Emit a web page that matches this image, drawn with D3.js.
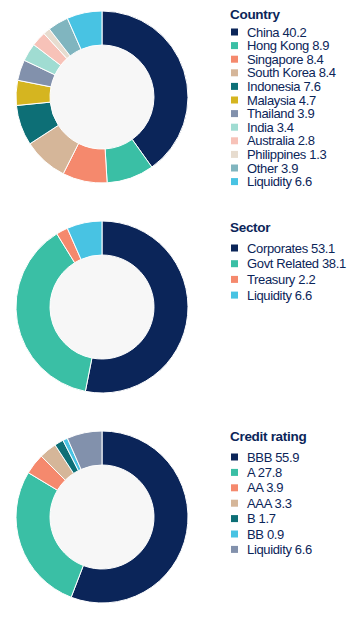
<!DOCTYPE html>
<html lang="en">
<head>
<meta charset="utf-8">
<title>Portfolio breakdown</title>
<style>
  body { margin: 0; background: #fff; font-family: "Liberation Sans", Arial, sans-serif; }
  svg { display: block; }
</style>
</head>
<body>
<svg id="chart"></svg>
<script src="https://d3js.org/d3.v7.min.js"></script>
<script>
  const width = 362;
  const height = 618;

  const countryLabels = ["China", "Hong Kong", "Singapore", "South Korea", "Indonesia", "Malaysia",
    "Thailand", "India", "Australia", "Philippines", "Other", "Liquidity"];
  const countryValues = [40.2, 8.9, 8.4, 8.4, 7.6, 4.7, 3.9, 3.4, 2.8, 1.3, 3.9, 6.6];
  const countryColors = ["#0b2559", "#3abfa5", "#f5896d", "#d5b699", "#0d6f76", "#d5b520",
    "#8291ac", "#a0dcd2", "#f7c2b8", "#e7dccf", "#80b5bf", "#48c3e3"];

  const sectorLabels = ["Corporates", "Govt Related", "Treasury", "Liquidity"];
  const sectorValues = [53.1, 38.1, 2.2, 6.6];
  const sectorColors = ["#0b2559", "#3abfa5", "#f5896d", "#48c3e3"];

  const ratingLabels = ["BBB", "A", "AA", "AAA", "B", "BB", "Liquidity"];
  const ratingValues = [55.9, 27.8, 3.9, 3.3, 1.7, 0.9, 6.6];
  const ratingColors = ["#0b2559", "#3abfa5", "#f5896d", "#d5b699", "#0d6f76", "#48c3e3", "#8291ac"];

  const svg = d3.select("#chart")
    .attr("width", width)
    .attr("height", height);

  const textColor = "#0b2559";

  // one donut + legend per block
  const blocks = [
    { title: "Country", labels: countryLabels, values: countryValues, colors: countryColors,
      cy: 97, titleY: 19, firstRow: 32, rowGap: 13.6 },
    { title: "Sector", labels: sectorLabels, values: sectorValues, colors: sectorColors,
      cy: 307, titleY: 232, firstRow: 248, rowGap: 15.7 },
    { title: "Credit rating", labels: ratingLabels, values: ratingValues, colors: ratingColors,
      cy: 517, titleY: 441, firstRow: 457, rowGap: 15.4 }
  ];

  const outerR = 86;
  const innerR = 52;
  const cx = 102;

  const pie = d3.pie().sort(null).value(d => d.value);
  const arc = d3.arc().innerRadius(innerR).outerRadius(outerR);

  blocks.forEach(b => {
    const data = b.labels.map((l, i) => ({ label: l, value: b.values[i], color: b.colors[i] }));

    const g = svg.append("g").attr("transform", `translate(${cx},${b.cy})`);

    g.append("circle")
      .attr("r", innerR)
      .style("fill", "#f7f7f7");

    g.selectAll("path")
      .data(pie(data))
      .enter()
      .append("path")
      .attr("d", arc)
      .style("fill", d => d.data.color)
      .style("stroke", "#fff")
      .style("stroke-width", 1);

    const y = d3.scaleLinear()
      .domain([0, 1])
      .range([b.firstRow, b.firstRow + b.rowGap]);

    const legend = svg.append("g");

    legend.append("text")
      .attr("x", 230)
      .attr("y", b.titleY)
      .text(b.title)
      .style("font-size", "13.5px")
      .style("font-weight", "bold")
      .style("letter-spacing", "-0.3px")
      .style("fill", textColor);

    const rows = legend.selectAll("g.row")
      .data(data)
      .enter()
      .append("g")
      .attr("class", "row")
      .attr("transform", (d, i) => `translate(0,${y(i)})`);

    rows.append("rect")
      .attr("x", 231)
      .attr("y", -3.5)
      .attr("width", 7)
      .attr("height", 7)
      .style("fill", d => d.color);

    rows.append("text")
      .attr("x", 247)
      .attr("dy", "0.36em")
      .text(d => `${d.label} ${d.value}`)
      .style("font-size", "13px")
      .style("letter-spacing", "-0.35px")
      .style("fill", textColor);
  });
</script>
</body>
</html>
